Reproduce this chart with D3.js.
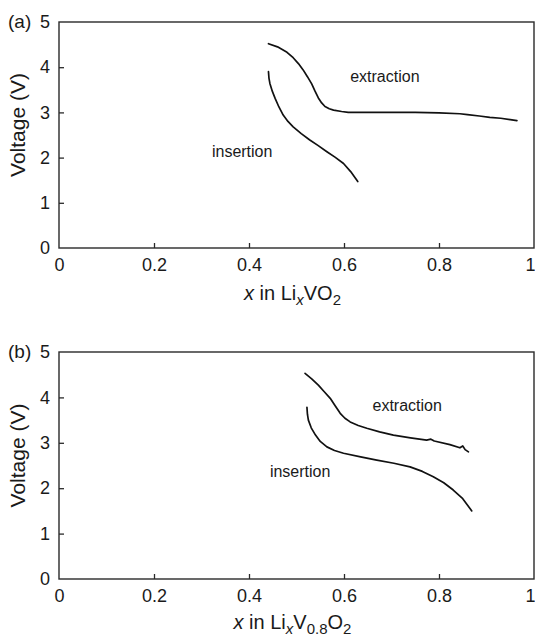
<!DOCTYPE html>
<html>
<head>
<meta charset="utf-8">
<script src="https://cdn.jsdelivr.net/npm/d3@7"></script>
<style>
  html, body { margin: 0; padding: 0; background: #fff; }
  svg { display: block; }
  text { font-family: "Liberation Sans", Arial, Helvetica, sans-serif; fill: #1a1a1a; }
</style>
</head>
<body>
<svg id="chart" width="535" height="643"></svg>
<script>
// ---- data ----
const xTicks = [0, 0.2, 0.4, 0.6, 0.8, 1];
const xTickLabels = ["0", "0.2", "0.4", "0.6", "0.8", "1"];
const yTicks = [0, 1, 2, 3, 4, 5];
const yTickLabels = ["0", "1", "2", "3", "4", "5"];

// Panel (a): LixVO2  [x, voltage]
const aExtraction = [
  [0.441, 4.52], [0.460, 4.45], [0.480, 4.33], [0.493, 4.21], [0.504, 4.08],
  [0.514, 3.94], [0.523, 3.79], [0.532, 3.63], [0.539, 3.47], [0.546, 3.32],
  [0.553, 3.21], [0.560, 3.13], [0.569, 3.08], [0.578, 3.05], [0.595, 3.02],
  [0.609, 3.00], [0.650, 3.00], [0.700, 3.00], [0.750, 3.00], [0.800, 2.99],
  [0.844, 2.97], [0.860, 2.95], [0.885, 2.92], [0.907, 2.89], [0.930, 2.87],
  [0.950, 2.84], [0.964, 2.82]
];
const aInsertion = [
  [0.441, 3.90], [0.442, 3.76], [0.444, 3.64], [0.449, 3.47], [0.455, 3.31],
  [0.463, 3.12], [0.472, 2.94], [0.482, 2.80], [0.493, 2.68], [0.510, 2.53],
  [0.528, 2.39], [0.545, 2.27], [0.564, 2.13], [0.581, 2.01], [0.599, 1.87],
  [0.614, 1.69], [0.629, 1.47]
];

// Panel (b): LixV0.8O2  [x, voltage]
const bExtraction = [
  [0.518, 4.53], [0.532, 4.41], [0.546, 4.27], [0.558, 4.13], [0.571, 3.98],
  [0.581, 3.82], [0.592, 3.65], [0.602, 3.54], [0.613, 3.46], [0.630, 3.38],
  [0.648, 3.32], [0.675, 3.24], [0.704, 3.17], [0.740, 3.11], [0.774, 3.06],
  [0.783, 3.08], [0.790, 3.04], [0.823, 2.96], [0.844, 2.89], [0.850, 2.93],
  [0.855, 2.85], [0.862, 2.80]
];
const bInsertion = [
  [0.522, 3.78], [0.523, 3.63], [0.525, 3.50], [0.531, 3.33], [0.540, 3.17],
  [0.550, 3.03], [0.564, 2.91], [0.580, 2.83], [0.599, 2.77], [0.635, 2.69],
  [0.669, 2.62], [0.705, 2.55], [0.739, 2.47], [0.765, 2.37], [0.788, 2.25],
  [0.810, 2.12], [0.830, 1.96], [0.850, 1.77], [0.869, 1.50]
];

// ---- drawing ----
const svg = d3.select("#chart");

const panels = [
  {
    tag: "(a)", top: 22, bottom: 248,
    extraction: aExtraction, insertion: aInsertion,
    extLabel: [0.613, 3.67], insLabel: [0.322, 2.01],
    titleParts: [["x", "it"], [" in Li", ""], ["x", "itsub"], ["VO", ""], ["2", "sub"]],
    titleY: 300
  },
  {
    tag: "(b)", top: 352, bottom: 579,
    extraction: bExtraction, insertion: bInsertion,
    extLabel: [0.66, 3.70], insLabel: [0.444, 2.25],
    titleParts: [["x", "it"], [" in Li", ""], ["x", "itsub"], ["V", ""], ["0.8", "sub"], ["O", ""], ["2", "sub"]],
    titleY: 629
  }
];

const left = 59, right = 534;

panels.forEach(p => {
  const x = d3.scaleLinear().domain([0, 1]).range([left, right]);
  const y = d3.scaleLinear().domain([0, 5]).range([p.bottom, p.top]);
  const g = svg.append("g");

  // frame
  g.append("rect")
    .attr("x", left).attr("y", p.top)
    .attr("width", right - left).attr("height", p.bottom - p.top)
    .attr("fill", "none").attr("stroke", "#2a2a2a").attr("stroke-width", 1.4);

  // x axis (inward ticks)
  const xAxis = d3.axisBottom(x).tickValues(xTicks)
    .tickFormat((d, i) => xTickLabels[i]).tickSizeInner(-5).tickSizeOuter(0).tickPadding(10);
  const gx = g.append("g").attr("transform", `translate(0,${p.bottom})`).call(xAxis);
  gx.select(".domain").remove();
  gx.selectAll(".tick line").attr("stroke", "#2a2a2a").attr("stroke-width", 1.3)
    .filter(d => d === 0 || d === 1).remove();
  gx.selectAll(".tick text").attr("font-size", 18)
    .attr("font-family", "Liberation Sans, Arial, sans-serif").attr("fill", "#1a1a1a");
  // keep the last label ("1") inside the canvas
  gx.selectAll(".tick text").filter(d => d === 1).attr("text-anchor", "end").attr("x", 1);

  // y axis (inward ticks)
  const yAxis = d3.axisLeft(y).tickValues(yTicks)
    .tickFormat((d, i) => yTickLabels[i]).tickSizeInner(-5).tickSizeOuter(0).tickPadding(9);
  const gy = g.append("g").attr("transform", `translate(${left},0)`).call(yAxis);
  gy.select(".domain").remove();
  gy.selectAll(".tick line").attr("stroke", "#2a2a2a").attr("stroke-width", 1.3)
    .filter(d => d === 0 || d === 5).remove();
  gy.selectAll(".tick text").attr("font-size", 18)
    .attr("font-family", "Liberation Sans, Arial, sans-serif").attr("fill", "#1a1a1a");

  // curves
  const line = d3.line().x(d => x(d[0])).y(d => y(d[1])).curve(d3.curveLinear);
  [p.extraction, p.insertion].forEach(s => {
    g.append("path").datum(s).attr("d", line)
      .attr("fill", "none").attr("stroke", "#111").attr("stroke-width", 1.7)
      .attr("stroke-linejoin", "round").attr("stroke-linecap", "round");
  });

  // annotations
  g.append("text").attr("x", x(p.extLabel[0])).attr("y", y(p.extLabel[1]))
    .attr("font-size", 16).text("extraction");
  g.append("text").attr("x", x(p.insLabel[0])).attr("y", y(p.insLabel[1]))
    .attr("font-size", 16).text("insertion");

  // panel tag
  g.append("text").attr("x", 8).attr("y", p.top + 6).attr("font-size", 19).text(p.tag);

  // y title
  g.append("text")
    .attr("transform", `translate(25,${(p.top + p.bottom) / 2 - 10}) rotate(-90)`)
    .attr("text-anchor", "middle").attr("font-size", 21).text("Voltage (V)");

  // x title
  const t = g.append("text").attr("x", (left + right) / 2 - 4).attr("y", p.titleY)
    .attr("text-anchor", "middle").attr("font-size", 20);
  p.titleParts.forEach(([s, k], i) => {
    const prev = i > 0 ? p.titleParts[i - 1][1] : "";
    const isSub = k === "sub" || k === "itsub";
    const wasSub = prev === "sub" || prev === "itsub";
    const ts = t.append("tspan").text(s);
    if (k === "it" || k === "itsub") ts.attr("font-style", "italic");
    if (isSub) ts.attr("font-size", 15);
    let dy = 0;
    if (isSub && !wasSub) dy = 5;
    if (!isSub && wasSub) dy = -5;
    if (dy) ts.attr("dy", dy);
  });
});
</script>
</body>
</html>
